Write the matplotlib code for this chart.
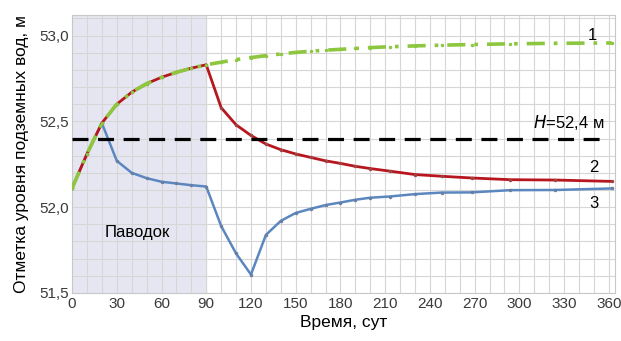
import numpy as np
import matplotlib
matplotlib.use("Agg")
import matplotlib.pyplot as plt
from matplotlib.ticker import MultipleLocator

plt.rcParams["font.family"] = ["Liberation Sans", "DejaVu Sans"]

# ── data ─────────────────────────────────────────────────────────────────────
days_rise = [0, 10, 20, 30, 40, 50, 60, 70, 80, 90]
level_rise = [52.11, 52.31, 52.49, 52.60, 52.67, 52.72, 52.757, 52.786, 52.81, 52.83]

days_after = [100, 110, 120, 130, 140, 150, 160, 170, 180, 190,
              200, 213, 230, 248, 268, 294, 324, 362]
level_1_after = [52.845, 52.86, 52.872, 52.883, 52.893, 52.902, 52.909, 52.915, 52.92, 52.925,
                 52.93, 52.935, 52.94, 52.944, 52.948, 52.952, 52.955, 52.957]
level_2_after = [52.58, 52.48, 52.418, 52.368, 52.335, 52.31, 52.29, 52.27, 52.255, 52.238,
                 52.225, 52.21, 52.19, 52.18, 52.17, 52.16, 52.158, 52.15]

days_3 = [0, 10, 20, 30, 40, 50, 60, 70, 80, 90, 100, 110, 120, 130, 140, 150, 160,
          170, 180, 190, 200, 213, 230, 248, 268, 294, 324, 362]
level_3 = [52.11, 52.31, 52.49, 52.27, 52.20, 52.169, 52.148, 52.138, 52.128, 52.12,
           51.89, 51.73, 51.607, 51.838, 51.92, 51.966, 51.99, 52.012, 52.027, 52.043,
           52.055, 52.062, 52.076, 52.085, 52.086, 52.099, 52.1, 52.109]

days_1 = days_rise + days_after
level_1 = level_rise + level_1_after
days_2 = days_rise + days_after
level_2 = level_rise + level_2_after

H_level = 52.4
flood_end = 90

# ── figure ───────────────────────────────────────────────────────────────────
fig = plt.figure(figsize=(6.21, 3.41), dpi=100)
ax = fig.add_axes([0.116, 0.141, 0.874, 0.815])

ax.axvspan(0, flood_end, color="#e6e6f2", zorder=0)

ax.plot(days_3, level_3, color="#5b87c0", lw=1.8, marker=".", ms=3,
        mec="#6a7fa0", zorder=3)
ax.plot(days_2, level_2, color="#b8161e", lw=2.0, marker=".", ms=3,
        mec="#9a4a4a", zorder=4)
ax.plot(days_1, level_1, color="#8dc63f", lw=2.6, ls=(0, (5, 2.5, 1, 2.5)),
        marker=".", ms=3, mec="#8dc63f", zorder=5)

ax.plot([0, 357], [H_level, H_level], color="black", lw=2.3,
        ls=(0, (5, 3)), zorder=6)

ax.text(357, 52.44, "$H$=52,4 м", ha="right", va="bottom", fontsize=12)
ax.text(349, 53.0, "1", ha="center", va="center", fontsize=12)
ax.text(350, 52.23, "2", ha="center", va="center", fontsize=12)
ax.text(350, 52.02, "3", ha="center", va="center", fontsize=12)
ax.text(44, 51.85, "Паводок", ha="center", va="center", fontsize=12)

ax.set_xlim(0, 364)
ax.set_ylim(51.5, 53.12)
ax.xaxis.set_major_locator(MultipleLocator(30))
ax.xaxis.set_minor_locator(MultipleLocator(10))
ax.yaxis.set_major_locator(MultipleLocator(0.5))
ax.yaxis.set_minor_locator(MultipleLocator(0.1))
ax.yaxis.set_major_formatter(plt.FuncFormatter(lambda v, p: f"{v:.1f}".replace(".", ",")))

ax.grid(True, which="both", color="#d6d6d6", lw=0.8, zorder=1)
ax.set_axisbelow(True)
for s in ax.spines.values():
    s.set_color("#c8c8c8")
ax.tick_params(which="both", length=0, labelsize=11, colors="#3a3a3a", pad=3)
ax.tick_params(axis="y", pad=2)

ax.set_xlabel("Время, сут", fontsize=12.5, labelpad=3)
ax.set_ylabel("Отметка уровня подземных вод, м", fontsize=12.5, labelpad=8)

fig.savefig("out.png", dpi=100)
